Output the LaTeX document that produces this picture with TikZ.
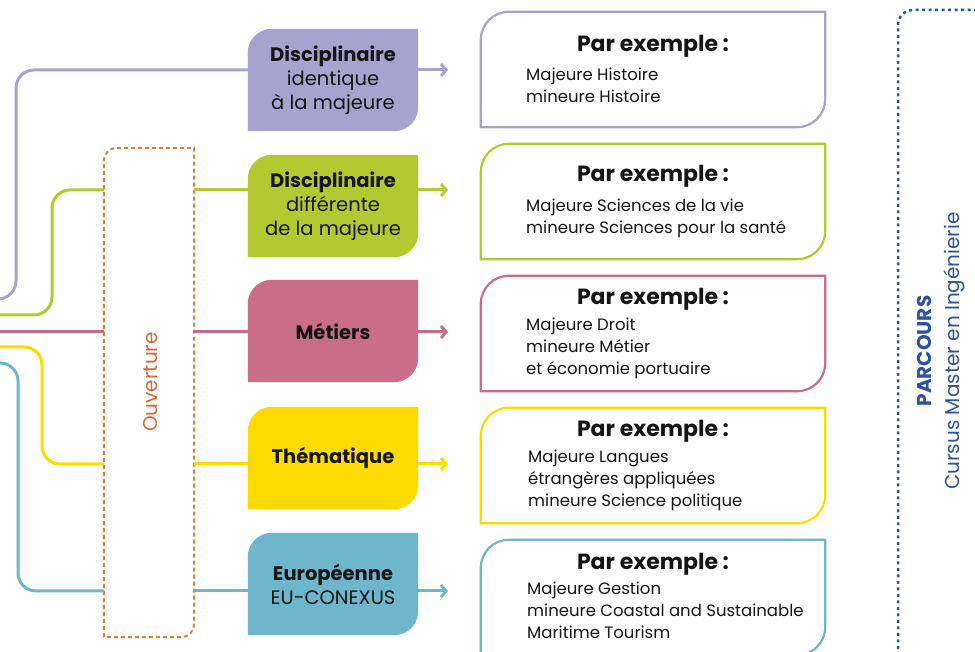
\documentclass[tikz,border=0pt]{standalone}
\usepackage{fontspec}
\setmainfont{Poppins}
\usetikzlibrary{arrows.meta,backgrounds}

\definecolor{lilas}{HTML}{A8A2CF}
\definecolor{anis}{HTML}{B4C92F}
\definecolor{rose}{HTML}{C96D89}
\definecolor{jaune}{HTML}{FDDB00}
\definecolor{ciel}{HTML}{6EB6CB}
\definecolor{orangeouv}{HTML}{E07C3A}
\definecolor{orangetxt}{HTML}{D9683A}
\definecolor{marine}{HTML}{2D52A0}
\definecolor{encre}{HTML}{151515}

\newcommand{\leafpath}[3]{%
  \path[#2] (#1.south west) -- ([yshift=-#3]#1.north west)
    arc[start angle=180,end angle=90,radius=#3] -- (#1.north east)
    -- ([yshift=#3]#1.south east) arc[start angle=0,end angle=-90,radius=#3] -- cycle;}

\tikzset{
  cat/.style={minimum width=170pt, minimum height=102pt, inner sep=0pt, align=center,
    text=encre, font=\fontsize{19.5}{24}\selectfont},
  ex/.style={minimum width=344pt, minimum height=115pt, inner sep=0pt},
  extitle/.style={anchor=base, inner sep=0pt, text=encre, font=\bfseries\fontsize{22}{26}\selectfont},
  exbody/.style={anchor=north west, inner sep=0pt, align=left, text=encre,
    font=\fontsize{16.5}{22}\selectfont},
  ln/.style={draw=#1, line width=3pt, rounded corners=18pt},
  arr/.style={draw=#1, line width=3pt, -{Straight Barb[length=5pt,width=12pt]}},
}

\begin{document}
\begin{tikzpicture}[x=1pt,y=1pt]
\useasboundingbox (0,0) rectangle (975,652);
\clip (0,0) rectangle (975,652);

\node[cat] (dis1) at (333,572) {\textbf{Disciplinaire}\\identique\\à la majeure};
\node[cat] (dis2) at (333,446) {\textbf{Disciplinaire}\\différente\\de la majeure};
\node[cat] (met) at (333,321) {\textbf{Métiers}};
\node[cat] (the) at (333,194) {\textbf{Thématique}};
\node[cat] (eur) at (333,68) {\textbf{Européenne}\\EU-CONEXUS};

\begin{scope}[on background layer]
  \leafpath{dis1}{fill=lilas}{24pt}
  \leafpath{dis2}{fill=anis}{24pt}
  \leafpath{met}{fill=rose}{24pt}
  \leafpath{the}{fill=jaune}{24pt}
  \leafpath{eur}{fill=ciel}{24pt}
\end{scope}

\node[ex] (ex1) at (653,582.5) {};
\node[ex] (ex2) at (653,450.5) {};
\node[ex] (ex3) at (653,318.5) {};
\node[ex] (ex4) at (653,186.5) {};
\node[ex] (ex5) at (653,54.5) {};
\leafpath{ex1}{draw=lilas,line width=2.2pt}{28pt}
\leafpath{ex2}{draw=anis,line width=2.2pt}{28pt}
\leafpath{ex3}{draw=rose,line width=2.2pt}{28pt}
\leafpath{ex4}{draw=jaune,line width=2.2pt}{28pt}
\leafpath{ex5}{draw=ciel,line width=2.2pt}{28pt}

\node[extitle] (ex1t) at (653,600) {Par exemple :};
\node[extitle] (ex2t) at (653,470) {Par exemple :};
\node[extitle] (ex3t) at (653,347) {Par exemple :};
\node[extitle] (ex4t) at (653,215) {Par exemple :};
\node[extitle] (ex5t) at (653,82) {Par exemple :};
\node[exbody] (ex1b) at (526,584) {Majeure Histoire\\mineure Histoire};
\node[exbody] (ex2b) at (526,453) {Majeure Sciences de la vie\\mineure Sciences pour la santé};
\node[exbody] (ex3b) at (526,334) {Majeure Droit\\mineure Métier\\et économie portuaire};
\node[exbody] (ex4b) at (528,202) {Majeure Langues\\étrangères appliquées\\mineure Science politique};
\node[exbody] (ex5b) at (527,70) {Majeure Gestion\\mineure Coastal and Sustainable\\Maritime Tourism};

\node[minimum width=90pt, minimum height=489pt, inner sep=0pt] (ouv) at (149,259.5) {};
\leafpath{ouv}{draw=orangeouv,line width=2pt,dash pattern=on 4pt off 3pt}{13pt}
\node[rotate=90, text=orangetxt, font=\fontsize{20}{22}\selectfont] (ouvt) at (151,270) {Ouverture};

\coordinate (src1) at (-10,353);
\coordinate (src2) at (-10,337);
\coordinate (src3) at (-10,320);
\coordinate (src4) at (-10,305);
\coordinate (src5) at (-10,289);
\coordinate (tip1) at (448,582);
\coordinate (tip2) at (448,462);
\coordinate (tip3) at (448,320);
\coordinate (tip4) at (448,188);
\coordinate (tip5) at (448,61);

\draw[ln=lilas] (src1) -| (16,582) -- (dis1.west |- tip1);
\draw[ln=anis] (src2) -| (52,462) -- (ouv.west |- tip2);
\draw[ln=rose] (src3) -- (ouv.west |- tip3);
\draw[ln=jaune] (src4) -| (42,188) -- (ouv.west |- tip4);
\draw[ln=ciel] (src5) -| (18,61) -- (ouv.west |- tip5);

\draw[ln=anis] (ouv.east |- tip2) -- (dis2.west |- tip2);
\draw[ln=rose] (ouv.east |- tip3) -- (met.west |- tip3);
\draw[ln=jaune] (ouv.east |- tip4) -- (the.west |- tip4);
\draw[ln=ciel] (ouv.east |- tip5) -- (eur.west |- tip5);

\draw[arr=lilas] (dis1.east |- tip1) -- (tip1);
\draw[arr=anis] (dis2.east |- tip2) -- (tip2);
\draw[arr=rose] (met.east |- tip3) -- (tip3);
\draw[arr=jaune] (the.east |- tip4) -- (tip4);
\draw[arr=ciel] (eur.east |- tip5) -- (tip5);

\draw[draw=marine, line width=2.5pt, dash pattern=on 3pt off 3.5pt, rounded corners=15pt]
  (990,642) -| (898,-10);
\node[rotate=90, align=center, text=marine, font=\fontsize{20}{28}\selectfont] (parc) at (941,301)
  {\textbf{PARCOURS}\\Cursus Master en Ingénierie};
\end{tikzpicture}
\end{document}
